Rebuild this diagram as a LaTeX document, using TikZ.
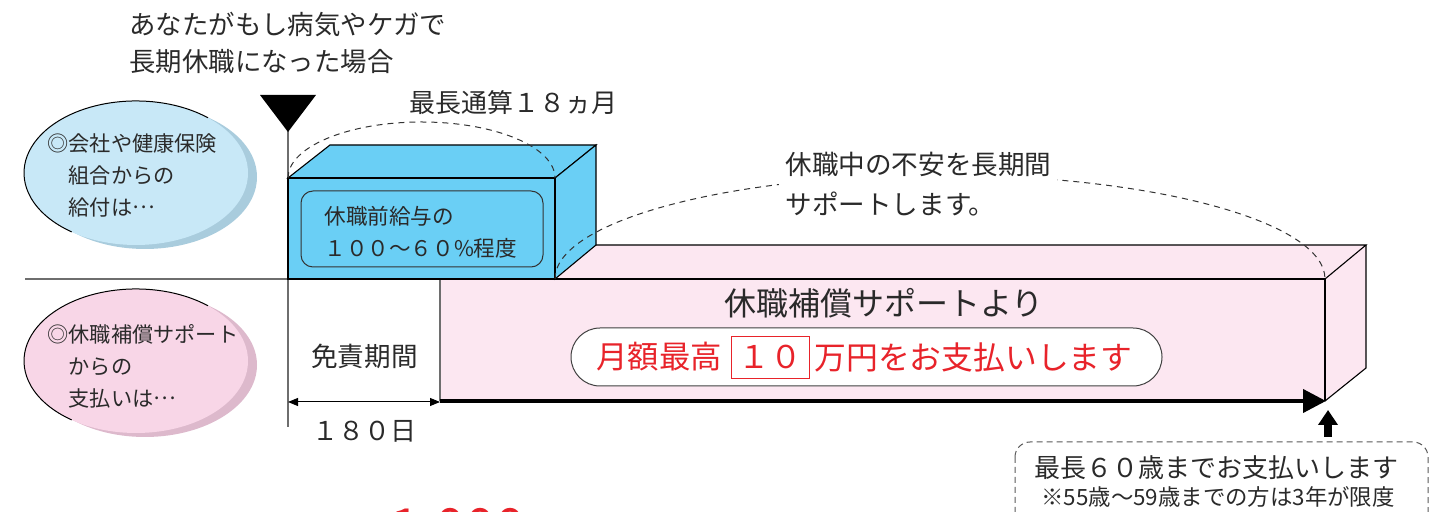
\documentclass[tikz,border=0pt]{standalone}
\usepackage{fontspec}
\setmainfont{Noto Sans CJK JP}
\usetikzlibrary{arrows.meta}
\definecolor{txt}{HTML}{2A2A2A}
\definecolor{linegray}{HTML}{6E6E6E}
\definecolor{bluebox}{HTML}{6ACFF5}
\definecolor{pinkbox}{HTML}{FCE7F1}
\definecolor{blueell}{HTML}{C8E8F7}
\definecolor{blueshadow}{HTML}{A9CCDD}
\definecolor{pinkell}{HTML}{F8D6E7}
\definecolor{pinkshadow}{HTML}{DDB9CC}
\definecolor{accent}{HTML}{E8232A}
\newcommand{\fsz}[2]{\fontsize{#1}{#2}\selectfont}
\newcommand{\midell}{\raisebox{0.3em}{…}}
\begin{document}
\begin{tikzpicture}[x=0.5pt,y=-0.5pt,
  lbl/.style={inner sep=0pt, text=txt},
  edge/.style={draw=black, line width=0.55pt},
  guide/.style={draw=linegray, line width=0.7pt},
  arcdash/.style={draw=black!80, dash pattern=on 3pt off 2.5pt, line width=0.5pt},
  boxdash/.style={draw=black!65, dash pattern=on 3pt off 2pt, line width=0.5pt, rounded corners=7.5pt},
]
\useasboundingbox (0,0) rectangle (1439,512);

% ---------- ellipses ----------
\fill[blueshadow] (145,177) ellipse [x radius=56pt, y radius=36pt];
\fill[blueell] (136,173) ellipse [x radius=56pt, y radius=36pt];
\draw[line width=0.5pt] (208.0,117.8) arc [start angle=50, end angle=235, x radius=56pt, y radius=36pt];

\fill[pinkshadow] (145,365) ellipse [x radius=56pt, y radius=36pt];
\fill[pinkell] (136,361) ellipse [x radius=56pt, y radius=36pt];
\draw[line width=0.5pt] (208.0,305.8) arc [start angle=50, end angle=235, x radius=56pt, y radius=36pt];

\node[lbl, anchor=west, align=left, font=\fsz{10.6}{16}] (ellBlueTxt) at (47,175) {◎会社や健康保険\\　組合からの\\　給付は\midell};
\node[lbl, anchor=west, align=left, font=\fsz{10.6}{16}] (ellPinkTxt) at (47,366) {◎休職補償サポート\\　からの\\　支払いは\midell};

% ---------- guide lines ----------
\coordinate (hl) at (25,279);
\coordinate (cross) at (288,279);
\coordinate (vtop) at (288,130);
\coordinate (vbot) at (288,427);
\draw[guide] (hl) -- (cross);
\draw[guide] (vtop) -- (vbot);

% marker triangle
\fill[black] (260,95) -- (316,95) -- (288,132) -- cycle;

% ---------- pink box ----------
\fill[pinkbox] (555,279) -- (596,245) -- (1366,245) -- (1325,279) -- cycle;
\fill[pinkbox] (440,279) rectangle (1325,401);
\fill[pinkbox] (1325,279) -- (1366,245) -- (1366,368) -- (1325,401) -- cycle;
\draw[edge] (596,245) -- (1366,245) -- (1325,279);
\draw[edge] (1366,245) -- (1366,368) -- (1325,401);
\draw[edge] (1325,279) -- (1325,401);
\draw[draw=black, line width=1pt] (555,279) -- (1325,279);
\draw[guide] (440,279) -- (440,401);

% ---------- blue box ----------
\filldraw[fill=bluebox, edge] (288,178) -- (330,145) -- (596,145) -- (555,178) -- cycle;
\filldraw[fill=bluebox, edge] (555,178) -- (596,145) -- (596,245) -- (555,279) -- cycle;
\filldraw[fill=bluebox, edge] (288,178) rectangle (555,279);
\draw[draw=black!80, line width=0.5pt, rounded corners=6pt] (301,191) rectangle (543,267);
\node[lbl, anchor=west, align=left, font=\fsz{10.8}{16}] (boxTxt) at (324,232) {休職前給与の\\１００～６０\%程度};

% ---------- dashed arcs ----------
\draw[arcdash] (288,178) arc [start angle=180, end angle=0, x radius=66.75pt, y radius=28pt];
\draw[arcdash] (555,279) arc [start angle=180, end angle=0, x radius=192.5pt, y radius=52pt];

\node[lbl, anchor=west, font=\fsz{13}{13}] (lbl18) at (409,103) {最長通算１８ヵ月};
\node[lbl, anchor=west, align=left, font=\fsz{13.3}{20}, fill=white, inner sep=3pt] (longTxt) at (779,184) {休職中の不安を長期間\\サポートします。};

% ---------- title ----------
\node[lbl, anchor=west, align=left, font=\fsz{13.2}{18.5}] (title) at (129,43) {あなたがもし病気やケガで\\長期休職になった場合};

% ---------- exemption period ----------
\node[lbl, font=\fsz{13.3}{13}] (menseki) at (364.5,356) {免責期間};
\coordinate (d180a) at (288,402);
\coordinate (d180b) at (440,402);
\draw[line width=0.5pt, {Triangle[width=4pt,length=5pt]}-{Triangle[width=4pt,length=5pt]}] (d180a) -- (d180b);
\node[lbl, font=\fsz{13}{13}] (days) at (364,431) {１８０日};

% ---------- pink box texts ----------
\node[lbl, font=\fsz{16}{16}] (supportTxt) at (884,303) {休職補償サポートより};
\node[draw=black!75, line width=0.5pt, fill=white, rounded corners=14.5pt, minimum width=295.5pt, minimum height=29pt, inner sep=0pt] (pill) at (866.5,357) {};
\node[inner sep=0pt, text=accent, anchor=west, font=\fsz{15.7}{16}] (txA) at (596,357) {月額最高};
\node[draw=accent, line width=0.4pt, fill=white, minimum width=39pt, minimum height=21pt, inner sep=0pt, text=accent, font=\fsz{15.7}{16}] (ten) at (770,357) {１０};
\node[inner sep=0pt, text=accent, anchor=west, font=\fsz{15.9}{16}] (txB) at (814,357) {万円をお支払いします};

% big arrow along the bottom
\coordinate (ba) at (440,401);
\coordinate (bb) at (1326,401);
\draw[line width=2pt, -{Triangle[width=11.5pt,length=11.5pt]}] (ba) -- (bb);

% up arrow
\coordinate (ua) at (1328,437);
\coordinate (ub) at (1328,410);
\draw[line width=4pt, -{Triangle[width=9.5pt,length=7.5pt]}] (ua) -- (ub);

% ---------- age note box ----------
\draw[boxdash] (1015,442) rectangle (1428,545);
\node[lbl, anchor=west, font=\fsz{13}{13}] (maxAge) at (1034,468) {最長６０歳までお支払いします};
\node[lbl, anchor=west, font=\fsz{11.2}{12}] (note) at (1041,497) {※55歳～59歳までの方は3年が限度};

% ---------- clipped number at the bottom ----------
\node[inner sep=0pt, anchor=base west, text=accent, font=\fsz{27}{27}] (bigNum) at (390,547) {1,000};
\end{tikzpicture}
\end{document}
